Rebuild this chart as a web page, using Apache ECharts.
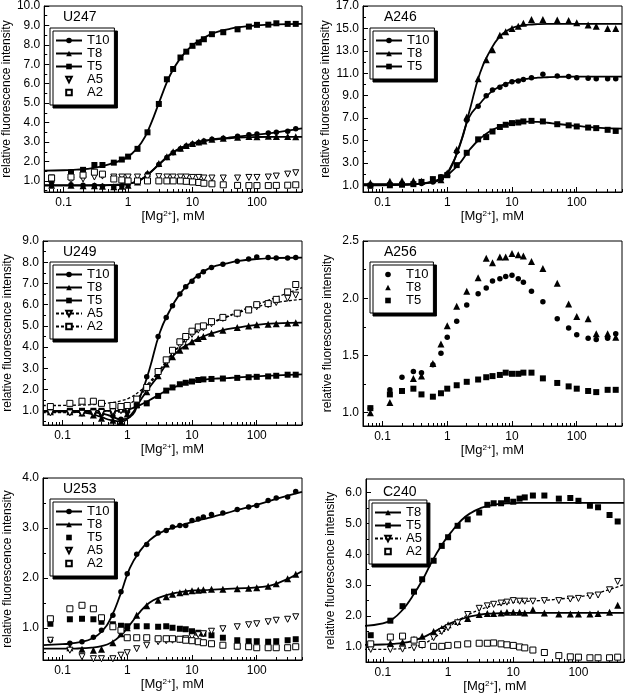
<!DOCTYPE html>
<html><head><meta charset="utf-8">
<script src="https://cdn.jsdelivr.net/npm/echarts@6/dist/echarts.min.js"></script>
<style>html,body{margin:0;padding:0;background:#fff}#c{width:627px;height:698px}</style>
</head><body><div id="c"></div>
<script>
// ---- x values (mM Mg2+) ----
const conc = [0.065,0.13,0.2,0.3,0.4,0.6,0.8,1,1.4,2,3,4,5,6.5,8,10,12.5,15,20,30,50,75,100,150,200,300,400];
const fitConc = [0.05,0.1,0.14,0.2,0.28,0.4,0.56,0.8,1.1,1.6,2.2,3.2,4.5,6.3,9,12.5,18,25,35,50,100,200,500];
const xTickLabels = [0.1,1,10,100];
const xMinorTicks = [0.06,0.07,0.08,0.09,0.2,0.3,0.4,0.5,0.6,0.7,0.8,0.9,2,3,4,5,6,7,8,9,20,30,40,50,60,70,80,90,200,300,400,500];

// ---- U247 ----
const u247_T10 = [0.8,0.8,0.78,0.77,0.72,0.7,0.75,0.8,0.95,1.35,1.85,2.2,2.45,2.65,2.8,2.9,2.98,3.05,3.15,3.2,3.3,3.38,3.42,3.47,3.5,3.55,3.68];
const u247_T8  = [0.78,0.78,0.75,0.75,0.72,0.7,0.73,0.78,0.95,1.4,1.9,2.25,2.5,2.68,2.82,2.92,3.0,3.05,3.15,3.2,3.25,3.28,3.27,3.3,3.28,3.28,3.27];
const u247_T5  = [1.05,1.43,1.57,1.82,1.82,1.94,2.1,2.25,2.65,3.5,4.96,6.23,6.76,7.35,7.65,7.95,8.12,8.29,8.55,8.65,8.8,8.94,9.03,9.04,9.11,9.08,9.08];
const u247_A5  = [1.15,1.05,1.1,1.2,1.25,1.2,1.2,1.2,1.2,1.2,1.22,1.2,1.2,1.2,1.2,1.18,1.18,1.15,1.15,1.15,1.15,1.18,1.18,1.2,1.25,1.35,1.42];
const u247_A2  = [1.15,1.2,1.3,1.45,1.35,1.1,1.05,1.0,1.0,1.0,1.0,1.0,1.0,1.0,0.98,0.95,0.92,0.88,0.85,0.8,0.77,0.76,0.76,0.76,0.77,0.78,0.8];
const u247_T10_fit = [0.78,0.78,0.78,0.78,0.78,0.785,0.79,0.82,0.88,1.08,1.42,1.92,2.35,2.65,2.86,3.0,3.1,3.17,3.22,3.28,3.38,3.5,3.7];
const u247_T8_fit  = [0.76,0.76,0.76,0.76,0.765,0.77,0.78,0.8,0.87,1.08,1.44,1.94,2.37,2.67,2.88,3.01,3.1,3.15,3.19,3.23,3.26,3.27,3.27];
const u247_T5_fit  = [1.53,1.55,1.57,1.6,1.66,1.76,1.9,2.08,2.35,2.95,3.85,5.25,6.45,7.25,7.85,8.2,8.5,8.68,8.8,8.9,9.0,9.05,9.08];

// ---- A246 ----
const a246_T10 = [1.05,1.05,1.1,1.1,1.15,1.3,1.75,2.0,4.0,6.8,8.05,9.0,9.5,9.75,10.0,10.25,10.3,10.45,10.6,10.9,10.75,10.7,10.6,10.55,10.5,10.5,10.5];
const a246_T8  = [1.2,1.35,1.4,1.4,1.35,1.5,1.5,2.1,4.2,7.1,10.5,12.2,13.1,14.4,14.7,15.0,15.2,15.45,15.8,15.8,15.75,15.7,15.5,15.3,15.2,15.0,15.0];
const a246_T5  = [0.95,1.0,1.05,1.1,1.3,1.55,1.7,1.9,2.8,3.9,5.1,5.3,5.8,6.2,6.4,6.55,6.6,6.7,6.75,6.7,6.45,6.35,6.25,6.15,6.1,5.95,5.85];
const a246_T10_fit = [1.05,1.05,1.05,1.06,1.09,1.14,1.25,1.55,2.4,4.8,7.1,8.3,9.2,9.8,10.15,10.38,10.52,10.6,10.64,10.67,10.7,10.7,10.7];
const a246_T8_fit  = [1.1,1.1,1.1,1.1,1.11,1.15,1.25,1.55,2.5,4.7,7.6,11.0,12.9,14.2,14.9,15.2,15.33,15.38,15.4,15.4,15.4,15.4,15.4];
const a246_T5_fit  = [1.0,1.0,1.01,1.03,1.07,1.15,1.3,1.6,2.1,3.05,4.15,5.15,5.8,6.2,6.5,6.63,6.68,6.65,6.58,6.47,6.3,6.15,6.05];

// ---- U249 ----
const u249_T10 = [0.95,0.95,0.93,0.9,0.85,0.75,0.6,0.95,1.3,2.6,4.5,5.4,5.95,6.5,6.85,7.1,7.35,7.55,7.75,7.9,8.05,8.15,8.25,8.22,8.2,8.2,8.22];
const u249_T8  = [0.95,0.95,0.9,0.8,0.65,0.55,0.5,0.85,1.3,1.9,2.65,3.2,3.55,3.85,4.05,4.25,4.4,4.5,4.65,4.8,4.92,5.0,5.05,5.08,5.1,5.12,5.15];
const u249_T5  = [1.0,1.0,1.0,1.0,1.0,1.0,1.05,1.05,1.25,1.35,1.7,1.95,2.1,2.25,2.32,2.38,2.45,2.48,2.5,2.52,2.55,2.58,2.6,2.62,2.65,2.7,2.7];
const u249_A5  = [0.9,0.9,0.88,0.9,0.92,0.95,1.0,1.1,1.5,2.0,2.8,3.3,3.7,4.1,4.35,4.6,4.8,4.9,5.1,5.35,5.55,5.75,5.9,6.0,6.1,6.3,6.45];
const u249_A2  = [1.2,1.35,1.45,1.45,1.35,1.25,1.2,1.25,1.55,2.1,2.85,3.4,3.85,4.25,4.5,4.75,4.95,5.0,5.2,5.4,5.6,5.75,6.0,6.05,6.25,6.6,6.95];
const u249_T10_fit = [0.97,0.97,0.97,0.96,0.94,0.88,0.75,0.6,0.7,1.7,2.95,4.7,5.7,6.45,7.0,7.4,7.7,7.85,7.95,8.05,8.15,8.2,8.22];
const u249_T8_fit  = [0.97,0.97,0.96,0.93,0.85,0.7,0.56,0.5,0.75,1.5,2.1,2.75,3.4,3.85,4.15,4.4,4.6,4.73,4.85,4.92,5.05,5.12,5.15];
const u249_T5_fit  = [1.0,1.0,1.0,1.0,1.0,1.0,1.0,1.0,1.08,1.28,1.5,1.78,2.02,2.2,2.34,2.43,2.49,2.52,2.54,2.57,2.62,2.67,2.72];
const u249_A5_fit  = [0.92,0.92,0.92,0.93,0.94,0.97,1.02,1.12,1.33,1.75,2.25,2.9,3.5,4.0,4.45,4.78,5.05,5.25,5.42,5.6,5.9,6.1,6.25];
const u249_A2_fit  = [1.25,1.25,1.26,1.27,1.29,1.33,1.38,1.47,1.62,1.95,2.35,2.95,3.55,4.05,4.5,4.83,5.08,5.28,5.45,5.65,6.0,6.35,6.8];

// ---- A256 ----
const a256_T10 = [1.04,1.2,1.31,1.36,1.35,1.42,1.52,1.66,1.8,1.94,2.04,2.09,2.15,2.17,2.19,2.2,2.17,2.14,2.06,1.97,1.82,1.74,1.68,1.65,1.64,1.65,1.69];
const a256_T8  = [1.0,1.09,null,1.3,1.32,1.43,1.6,1.76,1.93,2.06,2.18,2.35,2.31,2.36,2.36,2.39,2.38,2.37,2.32,2.26,2.13,1.95,1.84,1.82,1.69,1.69,1.66];
const a256_T5  = [1.04,1.16,1.19,1.21,1.16,1.14,1.17,1.21,1.24,1.27,1.29,1.31,1.32,1.33,1.35,1.34,1.34,1.35,1.35,1.3,1.26,1.23,1.21,1.19,1.18,1.2,1.2];

// ---- U253 ----
const u253_T10 = [0.75,0.69,0.72,0.81,0.95,1.25,1.72,2.08,2.47,2.67,2.9,2.95,3.02,3.05,3.05,3.15,3.18,3.22,3.27,3.3,3.37,3.42,3.45,3.55,3.6,3.62,3.73];
const u253_T8  = [null,0.6,0.57,0.55,0.57,0.7,0.88,1.0,1.25,1.44,1.55,1.62,1.67,1.7,1.72,1.74,1.75,1.76,1.77,1.77,1.78,1.79,1.8,1.83,1.88,1.98,2.07];
const u253_T5  = [1.08,1.17,1.18,1.17,1.12,1.07,1.04,1.03,1.03,1.03,1.02,1.03,1.0,0.98,0.97,0.93,0.9,0.88,0.85,0.8,0.75,0.73,0.73,0.72,0.73,0.75,0.77];
const u253_A5  = [0.75,0.55,0.42,0.38,0.38,0.38,0.45,0.5,0.58,0.65,0.72,0.74,0.75,0.76,0.78,0.82,0.86,0.88,0.93,0.98,1.02,1.06,1.08,1.12,1.15,1.17,1.22];
const u253_A2  = [1.18,1.38,1.45,1.38,1.2,1.02,0.95,0.8,0.8,0.8,0.78,0.78,0.78,0.77,0.75,0.74,0.72,0.7,0.68,0.65,0.63,0.62,0.6,0.6,0.6,0.6,0.62];
const u253_T10_fit = [0.65,0.67,0.69,0.72,0.78,0.92,1.2,1.7,2.2,2.55,2.75,2.9,2.98,3.04,3.1,3.15,3.2,3.25,3.3,3.36,3.46,3.58,3.72];
const u253_T8_fit  = [0.58,0.58,0.58,0.59,0.6,0.63,0.7,0.85,1.06,1.33,1.5,1.61,1.67,1.71,1.74,1.75,1.76,1.77,1.78,1.79,1.81,1.88,2.13];

// ---- C240 ----
const c240_T8 = [null,1.12,1.15,1.25,1.35,1.5,1.6,1.72,1.82,1.92,2.05,2.08,2.08,2.1,2.12,2.12,2.12,2.1,2.2,2.1,2.07,2.07,2.07,2.07,2.08,2.12,2.35];
const c240_T5 = [1.38,1.85,2.32,2.79,3.19,3.79,4.27,4.55,4.92,5.13,5.35,5.6,5.65,5.65,5.76,5.7,5.8,5.84,5.9,5.9,5.8,5.82,5.73,5.57,5.52,5.27,5.06];
const c240_A5 = [0.92,0.92,0.93,0.97,1.05,1.3,1.5,1.62,1.78,2.05,2.25,2.33,2.38,2.42,2.45,2.5,2.48,2.48,2.48,2.5,2.5,2.55,2.57,2.65,2.68,2.85,3.12];
const c240_A2 = [1.1,1.32,1.35,1.22,1.08,1.02,1.02,1.05,1.07,1.1,1.12,1.12,1.13,1.1,1.07,1.05,1.0,0.97,0.9,0.82,0.72,0.68,0.67,0.65,0.65,0.65,0.67];
const c240_T8_fit = [1.07,1.08,1.1,1.13,1.19,1.3,1.45,1.62,1.77,1.9,1.99,2.05,2.08,2.09,2.1,2.1,2.1,2.1,2.1,2.1,2.1,2.1,2.1];
const c240_T5_fit = [1.68,1.76,1.9,2.2,2.62,3.15,3.75,4.3,4.7,5.1,5.33,5.5,5.58,5.63,5.65,5.66,5.66,5.66,5.66,5.66,5.66,5.66,5.66];
const c240_A5_fit = [0.92,0.92,0.93,0.95,0.99,1.08,1.25,1.48,1.7,1.92,2.08,2.22,2.32,2.38,2.43,2.46,2.48,2.5,2.52,2.55,2.62,2.75,3.02];

// ---- y tick labels ----
const yTicksU247 = [1,2,3,4,5,6,7,8,9,10];
const yMinorU247 = [0.5,1.5,2.5,3.5,4.5,5.5,6.5,7.5,8.5,9.5];
const yTicksA246 = [1,3,5,7,9,11,13,15,17];
const yMinorA246 = [2,4,6,8,10,12,14,16];
const yTicksU249 = [1,2,3,4,5,6,7,8,9];
const yMinorU249 = [0.5,1.5,2.5,3.5,4.5,5.5,6.5,7.5,8.5];
const yTicksA256 = [1.0,1.5,2.0,2.5];
const yMinorA256 = [1.25,1.75,2.25];
const yTicksU253 = [1,2,3,4];
const yMinorU253 = [0.5,1.5,2.5,3.5];
const yTicksC240 = [1,2,3,4,5,6];
const yMinorC240 = [0.5,1.5,2.5,3.5,4.5,5.5];

const FONT = '"Liberation Sans", Arial, Helvetica, sans-serif';
const MARK = {
  T10: {symbol: 'circle', size: 5.5, fill: '#000', rot: 0},
  T8:  {symbol: 'triangle', size: 7, fill: '#000', rot: 0},
  T5:  {symbol: 'rect', size: 6, fill: '#000', rot: 0},
  A5:  {symbol: 'triangle', size: 6, fill: '#fff', rot: 180},
  A2:  {symbol: 'rect', size: 6, fill: '#fff', rot: 0}
};

const panels = [
  {name:'U247', grid:{left:43,top:6,width:259,height:186}, x:[0.05,500], y:[0.43,10], yT:yTicksU247, yM:yMinorU247,
   legend:{left:50,top:28}, title:{left:63,top:10},
   series:[{k:'T10',pts:u247_T10,fit:u247_T10_fit},{k:'T8',pts:u247_T8,fit:u247_T8_fit},{k:'T5',pts:u247_T5,fit:u247_T5_fit},{k:'A5',pts:u247_A5},{k:'A2',pts:u247_A2}]},
  {name:'A246', grid:{left:363,top:6,width:259,height:186}, x:[0.05,500], y:[0.4,17], yT:yTicksA246, yM:yMinorA246,
   legend:{left:370,top:28}, title:{left:384,top:10},
   series:[{k:'T10',pts:a246_T10,fit:a246_T10_fit},{k:'T8',pts:a246_T8,fit:a246_T8_fit},{k:'T5',pts:a246_T5,fit:a246_T5_fit}]},
  {name:'U249', grid:{left:43,top:241,width:259,height:184}, x:[0.05,500], y:[0.33,9], yT:yTicksU249, yM:yMinorU249,
   legend:{left:50,top:262}, title:{left:63,top:245},
   series:[{k:'T10',pts:u249_T10,fit:u249_T10_fit},{k:'T8',pts:u249_T8,fit:u249_T8_fit},{k:'T5',pts:u249_T5,fit:u249_T5_fit},{k:'A5',pts:u249_A5,fit:u249_A5_fit,dash:true},{k:'A2',pts:u249_A2,fit:u249_A2_fit,dash:true}]},
  {name:'A256', grid:{left:363,top:241,width:259,height:185}, x:[0.05,500], y:[0.884,2.5], yT:yTicksA256, yM:yMinorA256,
   legend:{left:370,top:262}, title:{left:384,top:245},
   series:[{k:'T10',pts:a256_T10},{k:'T8',pts:a256_T8},{k:'T5',pts:a256_T5}]},
  {name:'U253', grid:{left:43,top:478,width:259,height:182}, x:[0.05,500], y:[0.354,4], yT:yTicksU253, yM:yMinorU253,
   legend:{left:50,top:499}, title:{left:63,top:482},
   series:[{k:'T10',pts:u253_T10,fit:u253_T10_fit},{k:'T8',pts:u253_T8,fit:u253_T8_fit},{k:'T5',pts:u253_T5},{k:'A5',pts:u253_A5},{k:'A2',pts:u253_A2}]},
  {name:'C240', grid:{left:366,top:479,width:258,height:183}, x:[0.055,500], y:[0.513,6.435], yT:yTicksC240, yM:yMinorC240,
   legend:{left:369,top:500}, title:{left:383,top:485},
   series:[{k:'T8',pts:c240_T8,fit:c240_T8_fit},{k:'T5',pts:c240_T5,fit:c240_T5_fit},{k:'A5',pts:c240_A5,fit:c240_A5_fit,dash:true},{k:'A2',pts:c240_A2}]}
];

const option = {animation:false, backgroundColor:'#fff', textStyle:{fontFamily:FONT},
  title:[], legend:[], grid:[], xAxis:[], yAxis:[], series:[]};

panels.forEach((p, i) => {
  option.grid.push(Object.assign({show:true, borderColor:'#000', borderWidth:1, backgroundColor:'transparent'}, p.grid));
  option.title.push({text:p.name, left:p.title.left, top:p.title.top, padding:0,
    textStyle:{fontFamily:FONT, fontSize:14, fontWeight:'normal', color:'#000'}});
  const lab = {fontFamily:FONT, fontSize:12, color:'#000'};
  option.xAxis.push({type:'log', logBase:10, gridIndex:i, min:p.x[0], max:p.x[1], position:'bottom',
    name:'[Mg{sup|2+}], mM', nameLocation:'middle', nameGap:14,
    nameTextStyle:{fontFamily:FONT, fontSize:13, color:'#000', rich:{sup:{fontFamily:FONT, fontSize:8, color:'#000', verticalAlign:'top', padding:[0,0,5,0]}}},
    axisLine:{show:true, onZero:false, lineStyle:{color:'#000', width:1}},
    axisTick:{show:true, inside:true, length:5, customValues:xTickLabels, lineStyle:{color:'#000', width:1}},
    axisLabel:Object.assign({show:true, customValues:xTickLabels, margin:5, formatter:v=>String(+v.toPrecision(6))}, lab),
    splitLine:{show:false}});
  option.xAxis.push({type:'log', logBase:10, gridIndex:i, min:p.x[0], max:p.x[1], position:'bottom',
    axisLine:{show:false}, axisLabel:{show:false}, splitLine:{show:false},
    axisTick:{show:true, inside:true, length:3, customValues:xMinorTicks, lineStyle:{color:'#000', width:1}}});
  option.yAxis.push({type:'value', gridIndex:i, min:p.y[0], max:p.y[1], position:'left',
    name:'relative fluorescence intensity', nameLocation:'middle', nameRotate:90, nameGap:29,
    nameTextStyle:{fontFamily:FONT, fontSize:12, color:'#000'},
    axisLine:{show:true, onZero:false, lineStyle:{color:'#000', width:1}},
    axisTick:{show:true, inside:true, length:5, customValues:p.yT, lineStyle:{color:'#000', width:1}},
    axisLabel:Object.assign({show:true, customValues:p.yT, margin:4, formatter:v=>(+v).toFixed(1)}, lab),
    splitLine:{show:false}});
  option.yAxis.push({type:'value', gridIndex:i, min:p.y[0], max:p.y[1], position:'left',
    axisLine:{show:false}, axisLabel:{show:false}, splitLine:{show:false},
    axisTick:{show:true, inside:true, length:3, customValues:p.yM, lineStyle:{color:'#000', width:1}}});

  const names = [];
  p.series.forEach(s => {
    const nm = p.name + '|' + s.k;
    names.push(nm);
    const m = MARK[s.k];
    const itemStyle = {color:m.fill, borderColor:'#000', borderWidth:m.fill === '#fff' ? 1 : 0, opacity:1};
    if (s.fit) {
      option.series.push({type:'line', name:nm, xAxisIndex:2*i, yAxisIndex:2*i,
        data:fitConc.map((x, j) => [x, s.fit[j]]),
        smooth:0.5, showSymbol:false, symbol:m.symbol, symbolSize:m.size, symbolRotate:m.rot,
        itemStyle:itemStyle,
        lineStyle:{color:'#000', width:s.dash ? 1.3 : 1.8, type:s.dash ? [3,2] : 'solid'},
        clip:true, silent:true, z:2});
    }
    // measured points: a line series with no visible line (markers only)
    option.series.push({type:'line', name:nm, xAxisIndex:2*i, yAxisIndex:2*i,
      data:conc.map((x, j) => [x, s.pts[j]]).filter(d => d[1] != null),
      showSymbol:true, showAllSymbol:true, symbol:m.symbol, symbolSize:m.size, symbolRotate:m.rot, itemStyle:itemStyle,
      lineStyle:{width:0, color:'rgba(0,0,0,0)', opacity:0}, silent:true, z:3});
  });
  option.legend.push({left:p.legend.left, top:p.legend.top, orient:'vertical', data:names,
    formatter:n => n.split('|')[1], selectedMode:false,
    itemWidth:26, itemHeight:7, itemGap:0, padding:[6,5,6,5],
    backgroundColor:'#fff', borderColor:'#000', borderWidth:1,
    shadowColor:'#000', shadowBlur:0, shadowOffsetX:3, shadowOffsetY:3,
    textStyle:{fontFamily:FONT, fontSize:13, lineHeight:12, color:'#000'}});
});

const chart = echarts.init(document.getElementById('c'), null, {renderer:'canvas', width:627, height:698});
chart.setOption(option);
</script>
</body></html>
